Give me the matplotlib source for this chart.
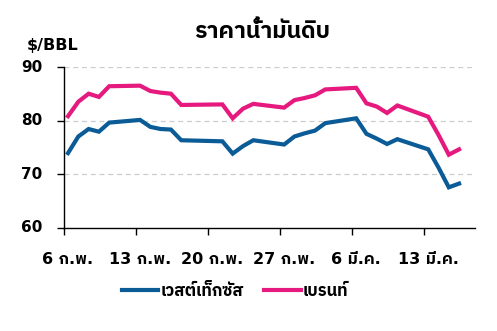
import matplotlib
matplotlib.use("Agg")
import matplotlib.pyplot as plt
from matplotlib import font_manager as fm
from matplotlib.ft2font import FT2Font
import pandas as pd

# data (trading days, 2023)
dates = ["2023-02-06", "2023-02-07", "2023-02-08", "2023-02-09", "2023-02-10",
         "2023-02-13", "2023-02-14", "2023-02-15", "2023-02-16", "2023-02-17",
         "2023-02-21", "2023-02-22", "2023-02-23", "2023-02-24",
         "2023-02-27", "2023-02-28", "2023-03-01", "2023-03-02", "2023-03-03",
         "2023-03-06", "2023-03-07", "2023-03-08", "2023-03-09", "2023-03-10",
         "2023-03-13", "2023-03-14", "2023-03-15", "2023-03-16"]
wti = [74.0, 77.1, 78.5, 78.0, 79.7,
       80.2, 78.9, 78.5, 78.4, 76.4,
       76.2, 73.9, 75.3, 76.4,
       75.6, 77.1, 77.7, 78.2, 79.6,
       80.5, 77.6, 76.7, 75.7, 76.6,
       74.7, 71.3, 67.6, 68.3]
brent = [80.9, 83.6, 85.1, 84.5, 86.5,
         86.6, 85.6, 85.3, 85.1, 83.0,
         83.1, 80.5, 82.3, 83.2,
         82.5, 83.9, 84.3, 84.8, 85.9,
         86.2, 83.3, 82.7, 81.5, 82.9,
         80.8, 77.4, 73.7, 74.7]
tick_labels = ["6 ก.พ.", "13 ก.พ.", "20 ก.พ.", "27 ก.พ.", "6 มี.ค.", "13 มี.ค."]
yticks = [60, 70, 80, 90]
series_names = ["เวสต์เท็กซัส", "เบรนท์"]
title = "ราคาน้ำมันดิบ"
unit = "$/BBL"


def find_thai_font():
    """Return a family name that has Thai glyphs, or None."""
    found = []
    for f in fm.fontManager.ttflist:
        try:
            cmap = FT2Font(f.fname).get_charmap()
        except Exception:
            continue
        if 0x0E23 in cmap:
            found.append(f.name)
    for name in found:
        if "Thai" in name:
            return name
    return found[0] if found else None


thai = find_thai_font()
families = ["DejaVu Sans"] + ([thai] if thai else [])
plt.rcParams["font.family"] = families

blue = "#0B5B97"
pink = "#E5197E"

start = pd.Timestamp(dates[0])
x = [(pd.Timestamp(d) - start).days for d in dates]

fig = plt.figure(figsize=(4.97, 3.31), dpi=100)
ax = fig.add_axes([0.1288, 0.3112, 0.8270, 0.4849])

ax.plot(x, wti, color=blue, lw=3.0, solid_joinstyle="miter", label=series_names[0])
ax.plot(x, brent, color=pink, lw=3.0, solid_joinstyle="miter", label=series_names[1])

ax.set_ylim(60, 90)
ax.set_xlim(-0.39, 39.55)
ax.set_yticks(yticks)
ax.set_yticklabels([])
# y labels sit well left of the tick marks
for y in yticks:
    ax.text(-0.0535, y, str(y), transform=ax.get_yaxis_transform(), ha="right",
            va="center", fontsize=11, fontweight="bold")

# tick marks sit a little left of the dates, labels are centred on the dates
label_pos = [7 * i for i in range(len(tick_labels))]
ax.set_xticks([p - 0.39 for p in label_pos])
ax.set_xticklabels([])
ax.set_xticks(label_pos, minor=True)
ax.set_xticklabels(tick_labels, minor=True)

for y in yticks[1:]:
    ax.axhline(y, color="#cccccc", lw=0.9, ls=(0, (4, 3)), zorder=0)

for s in ["top", "right"]:
    ax.spines[s].set_visible(False)
for s in ["left", "bottom"]:
    ax.spines[s].set_linewidth(1.0)
    ax.spines[s].set_color("black")

ax.tick_params(axis="both", direction="out", length=5, width=1.0, colors="black")
ax.tick_params(axis="x", which="minor", length=0, pad=17, labelsize=11.5)
for lab in ax.get_xticklabels(minor=True):
    lab.set_fontweight("bold")

fig.text(0.527, 0.905, title, ha="center", va="center", fontsize=16.5, fontweight="bold")
fig.text(0.054, 0.862, unit, ha="left", va="center", fontsize=11.5, fontweight="bold")

leg = fig.legend(loc="center", bbox_to_anchor=(0.473, 0.121), ncol=2, frameon=False,
                 handlelength=2.2, handletextpad=0.15, columnspacing=1.2,
                 prop={"size": 12, "weight": "bold"})

fig.savefig("out.png", dpi=100)
